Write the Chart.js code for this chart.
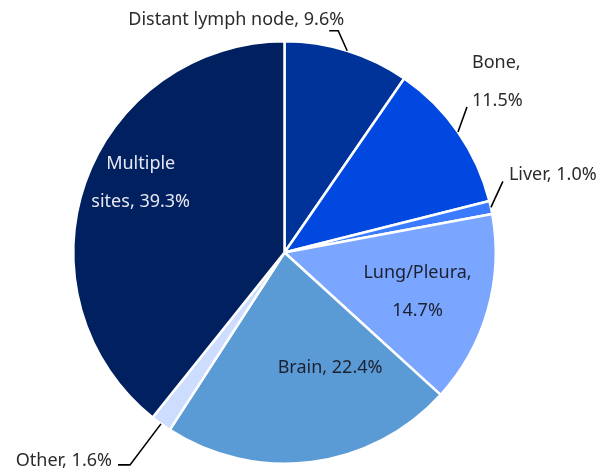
<!DOCTYPE html>
<html>
<head>
<meta charset="utf-8">
<script src="https://cdn.jsdelivr.net/npm/chart.js@4"></script>
<style>
html,body{margin:0;padding:0;background:#fff;}
#wrap{width:612px;height:472px;position:relative;}
</style>
</head>
<body>
<div id="wrap"><canvas id="c" width="612" height="472"></canvas></div>
<script>
const categories = ["Distant lymph node", "Bone", "Liver", "Lung/Pleura", "Brain", "Other", "Multiple sites"];
const values = [9.6, 11.5, 1.0, 14.7, 22.4, 1.6, 39.3];
const colors = ["#003399", "#0048E0", "#3A7BFF", "#7AA6FF", "#5B9BD5", "#CCDDFF", "#002060"];

// label layout (text lines derived from categories/values)
const labelLines = [
  ["Distant lymph node, 9.6%"],
  ["Bone,", "11.5%"],
  ["Liver, 1.0%"],
  ["Lung/Pleura,", "14.7%"],
  ["Brain, 22.4%"],
  ["Other, 1.6%"],
  ["Multiple", "sites, 39.3%"]
];
const layout = [
  {mode:"out", leader:[[-9,-20],[-18,-20]], text:[-3,-31], align:"right", color:"#2b2b2b"},
  {mode:"out", leader:[[9,-25]], text:[14,-31], align:"left", color:"#2b2b2b"},
  {mode:"out", leader:[[12,-26]], text:[18,-33], align:"left", color:"#2b2b2b"},
  {mode:"in", ang:106.6, r:0.657, color:"#1c2130"},
  {mode:"in", ang:158.4, r:0.586, color:"#1c2130"},
  {mode:"out", leader:[[-31,41],[-43,41]], text:[-49,37], align:"right", color:"#2b2b2b"},
  {mode:"in", ang:295.8, r:0.756, color:"#e6e9f2"}
];
const FONT = '18px "Noto Sans", "Open Sans", sans-serif';
const LINE_H = 38;

const labelPlugin = {
  id: "labels",
  afterDatasetsDraw(chart) {
    const ctx = chart.ctx;
    const meta = chart.getDatasetMeta(0);
    ctx.save();
    ctx.font = FONT;
    ctx.textBaseline = "middle";
    meta.data.forEach((arc, i) => {
      const p = arc.getProps(["x","y","startAngle","endAngle","outerRadius"], true);
      const L = layout[i];
      const lines = labelLines[i];
      ctx.fillStyle = L.color;
      if (L.mode === "out") {
        const mid = (p.startAngle + p.endAngle) / 2;
        const ex = p.x + p.outerRadius * Math.cos(mid);
        const ey = p.y + p.outerRadius * Math.sin(mid);
        ctx.strokeStyle = "#000";
        ctx.lineWidth = 1.6;
        ctx.beginPath();
        ctx.moveTo(ex, ey);
        L.leader.forEach(d => ctx.lineTo(ex + d[0], ey + d[1]));
        ctx.stroke();
        ctx.textAlign = L.align;
        const tx = ex + L.text[0], ty = ey + L.text[1];
        const n = lines.length;
        lines.forEach((t, k) => ctx.fillText(t, tx, ty - (n - 1 - k) * LINE_H));
      } else {
        const a = L.ang * Math.PI / 180;
        const cx = p.x + L.r * p.outerRadius * Math.sin(a);
        const cy = p.y - L.r * p.outerRadius * Math.cos(a);
        ctx.textAlign = "center";
        const n = lines.length;
        lines.forEach((t, k) => ctx.fillText(t, cx, cy + (k - (n - 1) / 2) * LINE_H));
      }
    });
    ctx.restore();
  }
};

new Chart(document.getElementById("c"), {
  type: "pie",
  data: {
    labels: categories,
    datasets: [{
      data: values,
      backgroundColor: colors,
      borderColor: "#ffffff",
      borderWidth: 2.5
    }]
  },
  options: {
    responsive: false,
    animation: false,
    layout: { padding: { top: 38, bottom: 5, left: 72, right: 115 } },
    plugins: { legend: { display: false }, tooltip: { enabled: false } }
  },
  plugins: [labelPlugin]
});
</script>
</body>
</html>
